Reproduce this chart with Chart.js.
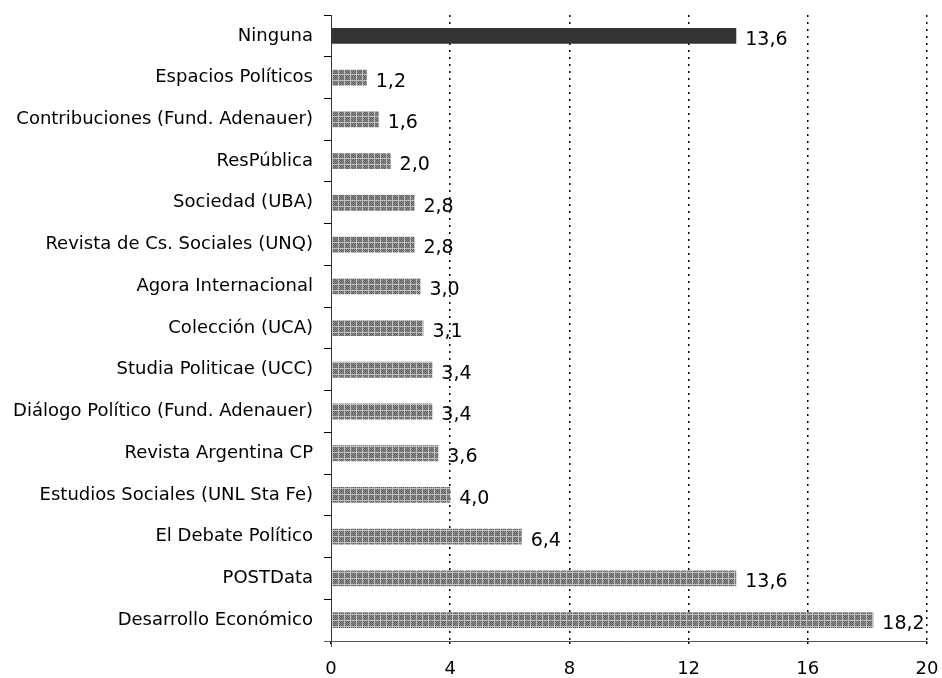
<!DOCTYPE html>
<html>
<head>
<meta charset="utf-8">
<script src="https://cdn.jsdelivr.net/npm/chart.js@4.4.1/dist/chart.umd.min.js"></script>
<style>
  html, body { margin: 0; padding: 0; background: #fff; }
  #wrap { width: 942px; height: 678px; }
</style>
</head>
<body>
<div id="wrap"><canvas id="c" width="942" height="678"></canvas></div>
<script>
// ── Datos ──
const categorias = [
  'Ninguna',
  'Espacios Políticos',
  'Contribuciones (Fund. Adenauer)',
  'ResPública',
  'Sociedad (UBA)',
  'Revista de Cs. Sociales (UNQ)',
  'Agora Internacional',
  'Colección (UCA)',
  'Studia Politicae (UCC)',
  'Diálogo Político (Fund. Adenauer)',
  'Revista Argentina CP',
  'Estudios Sociales (UNL Sta Fe)',
  'El Debate Político',
  'POSTData',
  'Desarrollo Económico'
];
const valores = [13.6, 1.2, 1.6, 2.0, 2.8, 2.8, 3.0, 3.1, 3.4, 3.4, 3.6, 4.0, 6.4, 13.6, 18.2];
const ticksX  = [0, 4, 8, 12, 16, 20];

const FONT = 'DejaVu Sans';

// ── Trama gris de las barras ──
function makePattern() {
  const p = document.createElement('canvas');
  p.width = 6; p.height = 6;
  const g = p.getContext('2d');
  g.fillStyle = '#8e8e8e';
  g.fillRect(0, 0, 6, 6);
  g.fillStyle = '#5e5e5e';
  for (let y = 0; y < 6; y++) {
    for (let x = 0; x < 6; x++) {
      if ((x + y) % 2 === 0) g.fillRect(x, y, 1, 1);
    }
  }
  g.fillStyle = '#c2c2c2';
  g.fillRect(0, 2, 6, 1);
  g.fillRect(2, 0, 1, 6);
  return g.createPattern(p, 'repeat');
}
const trama = makePattern();

// ── Etiquetas de valor ──
const valueLabels = {
  id: 'valueLabels',
  afterDatasetsDraw(chart) {
    const ctx = chart.ctx;
    const meta = chart.getDatasetMeta(0);
    ctx.save();
    ctx.font = '19px ' + FONT;
    ctx.fillStyle = '#000';
    ctx.textBaseline = 'middle';
    ctx.textAlign = 'left';
    meta.data.forEach((bar, i) => {
      const txt = valores[i].toFixed(1).replace('.', ',');
      ctx.fillText(txt, bar.x + 9, bar.y + 4);
    });
    // eje X: prolongación a la izquierda y marca en 0
    const area = chart.chartArea;
    ctx.strokeStyle = '#555';
    ctx.lineWidth = 1;
    ctx.beginPath();
    ctx.moveTo(area.left - 7, area.bottom + 0.5);
    ctx.lineTo(area.left, area.bottom + 0.5);
    ctx.moveTo(area.left + 0.5, area.bottom);
    ctx.lineTo(area.left + 0.5, area.bottom + 6);
    ctx.stroke();
    ctx.restore();
  }
};

new Chart(document.getElementById('c'), {
  type: 'bar',
  data: {
    labels: categorias,
    datasets: [{
      data: valores,
      backgroundColor: valores.map((v, i) => i === 0 ? '#333333' : trama),
      borderWidth: 0,
      barPercentage: 0.38,
      categoryPercentage: 1.0,
    }],
  },
  options: {
    indexAxis: 'y',
    responsive: false,
    animation: false,
    layout: { padding: { top: 15, right: 15, bottom: 0, left: 0 } },
    plugins: { legend: { display: false }, tooltip: { enabled: false } },
    scales: {
      x: {
        min: 0, max: 20,
        afterBuildTicks: axis => { axis.ticks = ticksX.map(v => ({ value: v })); },
        afterFit: axis => { axis.height = 37; axis.paddingLeft = 0; axis.paddingRight = 0; },
        ticks: { color: '#000', font: { family: FONT, size: 18 }, padding: 12 },
        grid: {
          color: c => c.tick && c.tick.value === 0 ? 'rgba(0,0,0,0)' : '#000',
          lineWidth: 1.5,
          tickLength: 6,
          tickBorderDash: [2, 5],
          tickColor: '#000',
        },
        border: { display: true, color: '#555', width: 1, dash: [2, 5] },
      },
      y: {
        afterFit: axis => { axis.width = 331; axis.paddingTop = 0; axis.paddingBottom = 0; },
        ticks: { color: '#000', font: { family: FONT, size: 18 }, padding: 11 },
        grid: { drawOnChartArea: false, offset: true, tickLength: 7, color: '#000' },
        border: { display: true, color: '#333', width: 1 },
      },
    },
  },
  plugins: [valueLabels],
});
</script>
</body>
</html>
